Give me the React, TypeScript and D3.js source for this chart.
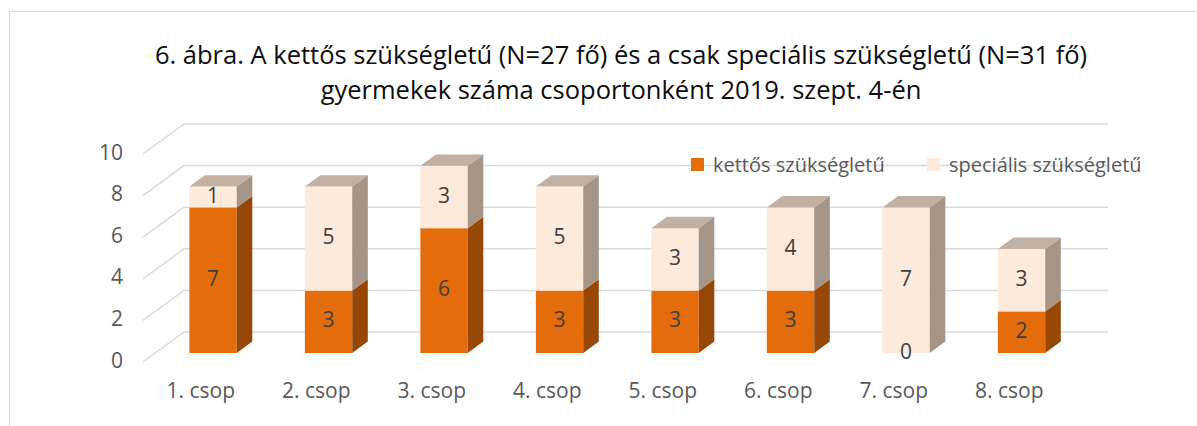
import * as d3 from 'd3';

const categories = ['1. csop', '2. csop', '3. csop', '4. csop', '5. csop', '6. csop', '7. csop', '8. csop'];
const kettosValues = [7, 3, 6, 3, 3, 3, 0, 2];
const specialisValues = [1, 5, 3, 5, 3, 4, 7, 3];
const seriesNames = ['kettős szükségletű', 'speciális szükségletű'];
const yTicks = [0, 2, 4, 6, 8, 10];
const titleLines = [
  '6. ábra. A kettős szükségletű (N=27 fő) és a csak speciális szükségletű (N=31 fő)',
  'gyermekek száma csoportonként 2019. szept. 4-én',
];

const W = 1197;
const H = 426;
// floor front edge, and how far the back wall sits behind it
const floorLeft = 143;
const floorRight = 1067;
const floorY = 362;
const wallDx = 41;
const wallDy = -30;
// bars sit between these depth fractions
const barFront = 0.3;
const barDepth = 0.38;

const faces = [
  { front: '#E46C0A', side: '#974706', top: '#EC9A5A' },
  { front: '#FDEADA', side: '#A49588', top: '#C1B1A4' },
];

const font = '"Open Sans", "Noto Sans", sans-serif';

export default function App() {
  const x = d3.scaleBand<string>()
    .domain(categories)
    .range([floorLeft, floorRight])
    .paddingInner(0.59)
    .paddingOuter(0.295);

  const y = d3.scaleLinear().domain([0, 10]).range([floorY, floorY - 208]);

  const stacked = d3.stack<number>()
    .keys(['0', '1'])
    .value((i, key) => (key === '0' ? kettosValues[i] : specialisValues[i]))(d3.range(categories.length));

  const bw = x.bandwidth();
  const offX = barFront * wallDx;
  const offY = barFront * wallDy;
  const ddx = barDepth * wallDx;
  const ddy = barDepth * wallDy;

  const bars = categories.map((c, i) => {
    const bx = (x(c) ?? 0) + offX;
    const segs = stacked.map((s, k) => {
      const [v0, v1] = s[i];
      return { k, v0, v1, value: v1 - v0, yTop: y(v1) + offY, yBot: y(v0) + offY };
    });
    return { c, bx, segs };
  });

  return (
    <svg width={W} height={H} style={{ position: 'absolute', left: 0, top: 0 }} fontFamily={font}>
      <rect x={0} y={0} width={W} height={H} fill="#fff" />
      <path d={`M9.5,${H}V11.5H${W}`} fill="none" stroke="#D9D9D9" strokeWidth={1} />

      {titleLines.map((t, i) => (
        <text key={i} x={621} y={64 + i * 35} textAnchor="middle" fontSize={25.5} fill="#0d0d0d">{t}</text>
      ))}

      {yTicks.map(t => (
        <g key={t}>
          <polyline
            points={`${floorLeft},${y(t)} ${floorLeft + wallDx},${y(t) + wallDy} ${floorRight + wallDx},${y(t) + wallDy}`}
            fill="none" stroke="#D9D9D9" strokeWidth={1.5} />
          <text x={123} y={y(t)} textAnchor="end" dominantBaseline="middle" fontSize={21} fill="#595959">{t}</text>
        </g>
      ))}

      {bars.map(b => (
        <g key={b.c}>
          {b.segs.filter(s => s.value > 0).map((s, j, arr) => {
            const f = faces[s.k];
            const isTop = j === arr.length - 1;
            return (
              <g key={s.k}>
                <rect x={b.bx} y={s.yTop} width={bw} height={s.yBot - s.yTop} fill={f.front} />
                <polygon
                  points={`${b.bx + bw},${s.yTop} ${b.bx + bw + ddx},${s.yTop + ddy} ${b.bx + bw + ddx},${s.yBot + ddy} ${b.bx + bw},${s.yBot}`}
                  fill={f.side} />
                {isTop && (
                  <polygon
                    points={`${b.bx},${s.yTop} ${b.bx + ddx},${s.yTop + ddy} ${b.bx + bw + ddx},${s.yTop + ddy} ${b.bx + bw},${s.yTop}`}
                    fill={f.top} />
                )}
              </g>
            );
          })}
          {b.segs.map(s => (
            <text key={s.k} x={b.bx + bw / 2} y={(s.yTop + s.yBot) / 2} textAnchor="middle" dominantBaseline="middle"
              fontSize={21} fill="#404040">{s.value}</text>
          ))}
        </g>
      ))}

      {categories.map(c => (
        <text key={c} x={(x(c) ?? 0) + bw / 2} y={398} textAnchor="middle" fontSize={21} fill="#595959">{c}</text>
      ))}

      {seriesNames.map((n, i) => {
        const lx = [691, 927][i];
        return (
          <g key={n}>
            <rect x={lx} y={158} width={13} height={13} fill={faces[i].front} />
            <text x={lx + 22} y={172} fontSize={20} fill="#595959">{n}</text>
          </g>
        );
      })}
    </svg>
  );
}
